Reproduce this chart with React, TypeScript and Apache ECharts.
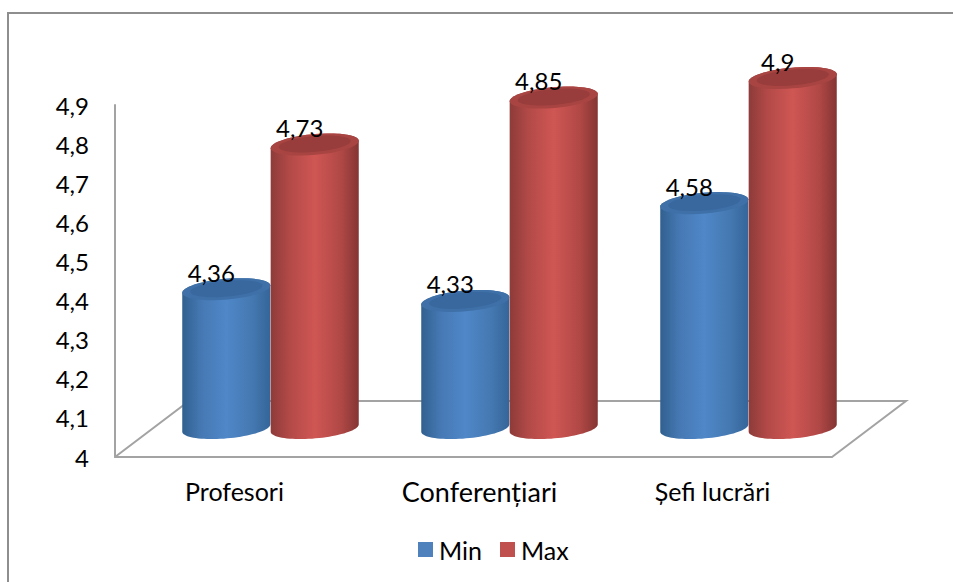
import React, { useEffect, useRef } from "react";
import * as echarts from "echarts";

const categories = ["Profesori", "Conferențiari", "Șefi lucrări"];
const minValues = [4.36, 4.33, 4.58];
const maxValues = [4.73, 4.85, 4.9];
const seriesNames = ["Min", "Max"];

const FONT = "Lato";
const GRAY = "#a3a3a3";
const comma = (v: number) => String(v).replace(".", ",");

function ellipsePoints(cx: number, cy: number, rx: number, ry: number, phi: number, from: number, to: number) {
  const pts: number[][] = [];
  const n = 40;
  for (let i = 0; i <= n; i++) {
    const t = from + ((to - from) * i) / n;
    const c = Math.cos(t), s = Math.sin(t);
    pts.push([
      cx + rx * c * Math.cos(phi) - ry * s * Math.sin(phi),
      cy + rx * c * Math.sin(phi) + ry * s * Math.cos(phi),
    ]);
  }
  return pts;
}

const lg = (stops: string[]) =>
  new echarts.graphic.LinearGradient(
    0, 0, 1, 0,
    stops.map((color, i) => ({ offset: [0, 0.22, 0.5, 0.8, 1][i], color }))
  );

function cylinder(side: number, body: string[], cap: string, rim: string) {
  return (params: any, api: any) => {
    const idx = api.value(0);
    const v = api.value(1);
    const band = api.size([1, 0])[0];
    const depthX = 36, depthY = 27;
    const w = band * 0.185;
    const rx = w;
    const ry = 10.4;
    const phi = (-5 * Math.PI) / 180;
    const center = api.coord([idx, v]);
    const base = api.coord([idx, 4]);
    const cx = center[0] + depthX + side * w;
    const topY = center[1] - depthY;
    const baseY = base[1] - depthY - 2;
    const bottomArc = ellipsePoints(cx, baseY, rx, ry, phi, 0, Math.PI);
    const topArc = ellipsePoints(cx, topY, rx, ry, phi, Math.PI, 2 * Math.PI);
    return {
      type: "group",
      children: [
        { type: "polygon", shape: { points: [...bottomArc, ...topArc] }, style: { fill: lg(body) } },
        { type: "polygon", shape: { points: ellipsePoints(cx, topY, rx, ry, phi, 0, 2 * Math.PI) }, style: { fill: rim } },
        { type: "polygon", shape: { points: ellipsePoints(cx, topY - 0.5, rx - 8, ry - 2.5, phi, 0, 2 * Math.PI) }, style: { fill: cap } },
        {
          type: "text",
          x: cx - 15,
          y: topY - 17,
          style: {
            text: comma(v),
            fill: "#000",
            font: `24px ${FONT}`,
            align: "center",
            verticalAlign: "middle",
          },
        },
      ],
    };
  };
}

function floor(params: any, api: any) {
  const c = params.coordSys;
  const left = c.x, right = c.x + c.width, bottom = c.y + c.height;
  const dx = 74, dy = 56;
  return {
    type: "polyline",
    shape: { points: [[left, bottom], [left + dx, bottom - dy], [right + dx, bottom - dy], [right, bottom]] },
    style: { stroke: GRAY, lineWidth: 2, fill: null },
  };
}

export default function App() {
  const ref = useRef<HTMLDivElement>(null);
  useEffect(() => {
    const chart = echarts.init(ref.current!, null, { renderer: "svg" });
    chart.setOption({
      animation: false,
      backgroundColor: "#fff",
      grid: { left: 115, right: 121, top: 105, bottom: 125, containLabel: false },
      graphic: [
        {
          type: "rect",
          shape: { x: 8, y: 13, width: 990, height: 620 },
          style: { fill: "none", stroke: "#8e8e8e", lineWidth: 2 },
          silent: true,
          z: -1,
        },
      ],
      legend: {
        data: seriesNames,
        left: 413,
        top: 532,
        itemWidth: 15,
        itemHeight: 15,
        itemGap: 18,
        icon: "rect",
        textStyle: { fontFamily: FONT, fontSize: 25, color: "#000", padding: [0, 0, 0, 1] },
      },
      xAxis: {
        type: "category",
        data: categories.map((value, i) =>
          i === 1 ? { value, textStyle: { fontSize: 27, padding: [0, 0, 0, 12] } } : { value }
        ),
        axisLine: { show: true, lineStyle: { color: GRAY, width: 2 } },
        axisTick: { show: false },
        axisLabel: { fontFamily: FONT, fontSize: 25, color: "#000", margin: 21 },
      },
      yAxis: {
        type: "value",
        min: 4,
        max: 4.9,
        interval: 0.1,
        splitLine: { show: false },
        axisLine: { show: true, lineStyle: { color: GRAY, width: 2 } },
        axisTick: { show: false },
        axisLabel: { fontFamily: FONT, fontSize: 24, color: "#000", margin: 26, formatter: comma },
      },
      series: [
        { type: "custom", name: "floor", silent: true, z: 1, data: [[0, 4]], renderItem: floor, encode: { x: 0, y: 1 } },
        {
          type: "custom",
          name: seriesNames[0],
          z: 2,
          itemStyle: { color: "#4f81bd" },
          data: minValues.map((v, i) => [i, v]),
          encode: { x: 0, y: 1 },
          renderItem: cylinder(-1, ["#31608f", "#4679b4", "#4f87c8", "#4478b0", "#356599"], "#38689e", "#3f70a8"),
        },
        {
          type: "custom",
          name: seriesNames[1],
          z: 3,
          itemStyle: { color: "#c0504d" },
          data: maxValues.map((v, i) => [i, v]),
          encode: { x: 0, y: 1 },
          renderItem: cylinder(1, ["#8d3b39", "#b34a48", "#cf5653", "#b04846", "#843533"], "#983d3b", "#a84543"),
        },
      ],
    });
    return () => chart.dispose();
  }, []);
  return <div ref={ref} style={{ position: "absolute", left: 0, top: 0, width: 953, height: 582 }} />;
}
